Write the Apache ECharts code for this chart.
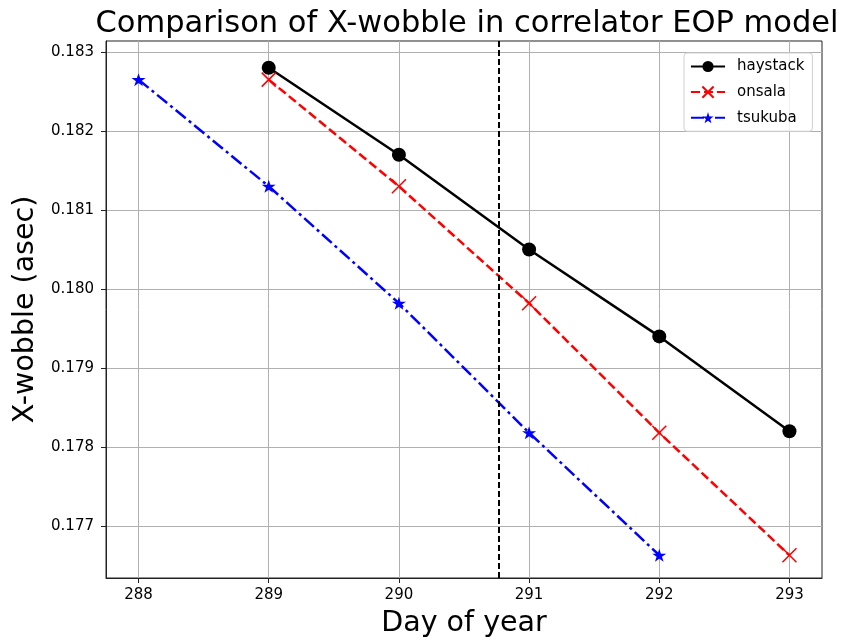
<!DOCTYPE html>
<html>
<head>
<meta charset="utf-8">
<script src="https://cdn.jsdelivr.net/npm/echarts@6/dist/echarts.min.js"></script>
<style>html,body{margin:0;padding:0;background:#fff}#c{width:860px;height:644px}</style>
</head>
<body>
<div id="c"></div>
<script>
// ---- data ----
const haystackDays = [289, 290, 291, 292, 293];
const haystackVals = [0.1828, 0.1817, 0.1805, 0.1794, 0.1782];
const onsalaDays = [289, 290, 291, 292, 293];
const onsalaVals = [0.18265, 0.18130, 0.17982, 0.17818, 0.17663];
const tsukubaDays = [288, 289, 290, 291, 292];
const tsukubaVals = [0.18265, 0.18130, 0.17982, 0.17818, 0.17663];
const xTicks = [288, 289, 290, 291, 292, 293];
const yTicks = [0.177, 0.178, 0.179, 0.180, 0.181, 0.182, 0.183];
const markerDay = 290.775;
const xRange = [287.75, 293.25];
const yRange = [0.176342, 0.183139];

const FONT = 'DejaVu Sans';
const starPath = 'path://M100,0L122.45,69.1L195.1,69.1L136.3,111.8L158.8,180.9L100,138.2L41.2,180.9L63.7,111.8L4.9,69.1L77.55,69.1Z';
const xPath = 'path://M0,0L10,10M10,0L0,10';

function pairs(xs, ys){ return xs.map((x,i)=>[x, ys[i]]); }

const chart = echarts.init(document.getElementById('c'), null, {renderer:'canvas'});
chart.setOption({
  backgroundColor: '#fff',
  animation: false,
  textStyle: {fontFamily: FONT},
  title: {
    text: 'Comparison of X-wobble in correlator EOP model',
    left: 462, textAlign: 'center', top: 4,
    textStyle: {fontFamily: FONT, fontSize: 30.5, fontWeight: 'normal', color: '#000'}
  },
  grid: {left: 106, right: 38, top: 41, bottom: 66, containLabel: false,
         show: true, borderColor: '#222', borderWidth: 1, backgroundColor: 'transparent'},
  legend: {
    orient: 'vertical', left: 684, top: 53,
    padding: [6, 8, 6, 6],
    backgroundColor: 'rgba(255,255,255,0.8)', borderColor: '#d0d0d0', borderWidth: 1, borderRadius: 3,
    itemWidth: 34, itemHeight: 14, itemGap: 10,
    textStyle: {fontFamily: FONT, fontSize: 15, color: '#000', padding: [0,0,0,7]},
    data: ['haystack', 'onsala', 'tsukuba']
  },
  xAxis: {
    type: 'value', min: xRange[0], max: xRange[1],
    name: 'Day of year', nameLocation: 'middle', nameGap: 31,
    nameTextStyle: {fontFamily: FONT, fontSize: 28.5, color: '#000'},
    axisLine: {show: true, onZero: false, lineStyle: {color: '#222', width: 1}},
    axisTick: {show: true, inside: false, length: 5, customValues: xTicks, lineStyle: {color: '#222', width: 1}},
    axisLabel: {customValues: xTicks, margin: 10, fontFamily: FONT, fontSize: 15, color: '#000', formatter: v => String(Math.round(v))},
    splitLine: {show: true, lineStyle: {color: '#b0b0b0', width: 1}}
  },
  yAxis: {
    type: 'value', min: yRange[0], max: yRange[1],
    name: 'X-wobble (asec)', nameLocation: 'middle', nameGap: 65,
    nameTextStyle: {fontFamily: FONT, fontSize: 28.5, color: '#000'},
    axisLine: {show: true, onZero: false, lineStyle: {color: '#222', width: 1}},
    axisTick: {show: true, inside: false, length: 5, customValues: yTicks, lineStyle: {color: '#222', width: 1}},
    axisLabel: {customValues: yTicks, margin: 12, fontFamily: FONT, fontSize: 15, color: '#000', formatter: v => v.toFixed(3)},
    splitLine: {show: true, lineStyle: {color: '#b0b0b0', width: 1}}
  },
  series: [
    {
      name: 'haystack', type: 'line', data: pairs(haystackDays, haystackVals),
      symbol: 'circle', symbolSize: 14,
      lineStyle: {color: '#000', width: 2.5, type: 'solid'},
      itemStyle: {color: '#000'},
      z: 3,
      markLine: {
        silent: true, symbol: 'none', label: {show: false},
        lineStyle: {color: '#000', width: 2, type: [6, 3]},
        data: [{xAxis: markerDay}]
      }
    },
    {
      name: 'onsala', type: 'line', data: pairs(onsalaDays, onsalaVals),
      symbol: xPath, symbolSize: 14,
      lineStyle: {color: '#ff0000', width: 2.5, type: [9, 4]},
      itemStyle: {color: 'none', borderColor: '#ff0000', borderWidth: 1.5},
      z: 3
    },
    {
      name: 'tsukuba', type: 'line', data: pairs(tsukubaDays, tsukubaVals),
      symbol: starPath, symbolSize: [14, 13],
      lineStyle: {color: '#0000ff', width: 2.5, type: [13, 4, 3, 4]},
      itemStyle: {color: '#0000ff'},
      z: 3
    }
  ]
});
</script>
</body>
</html>
